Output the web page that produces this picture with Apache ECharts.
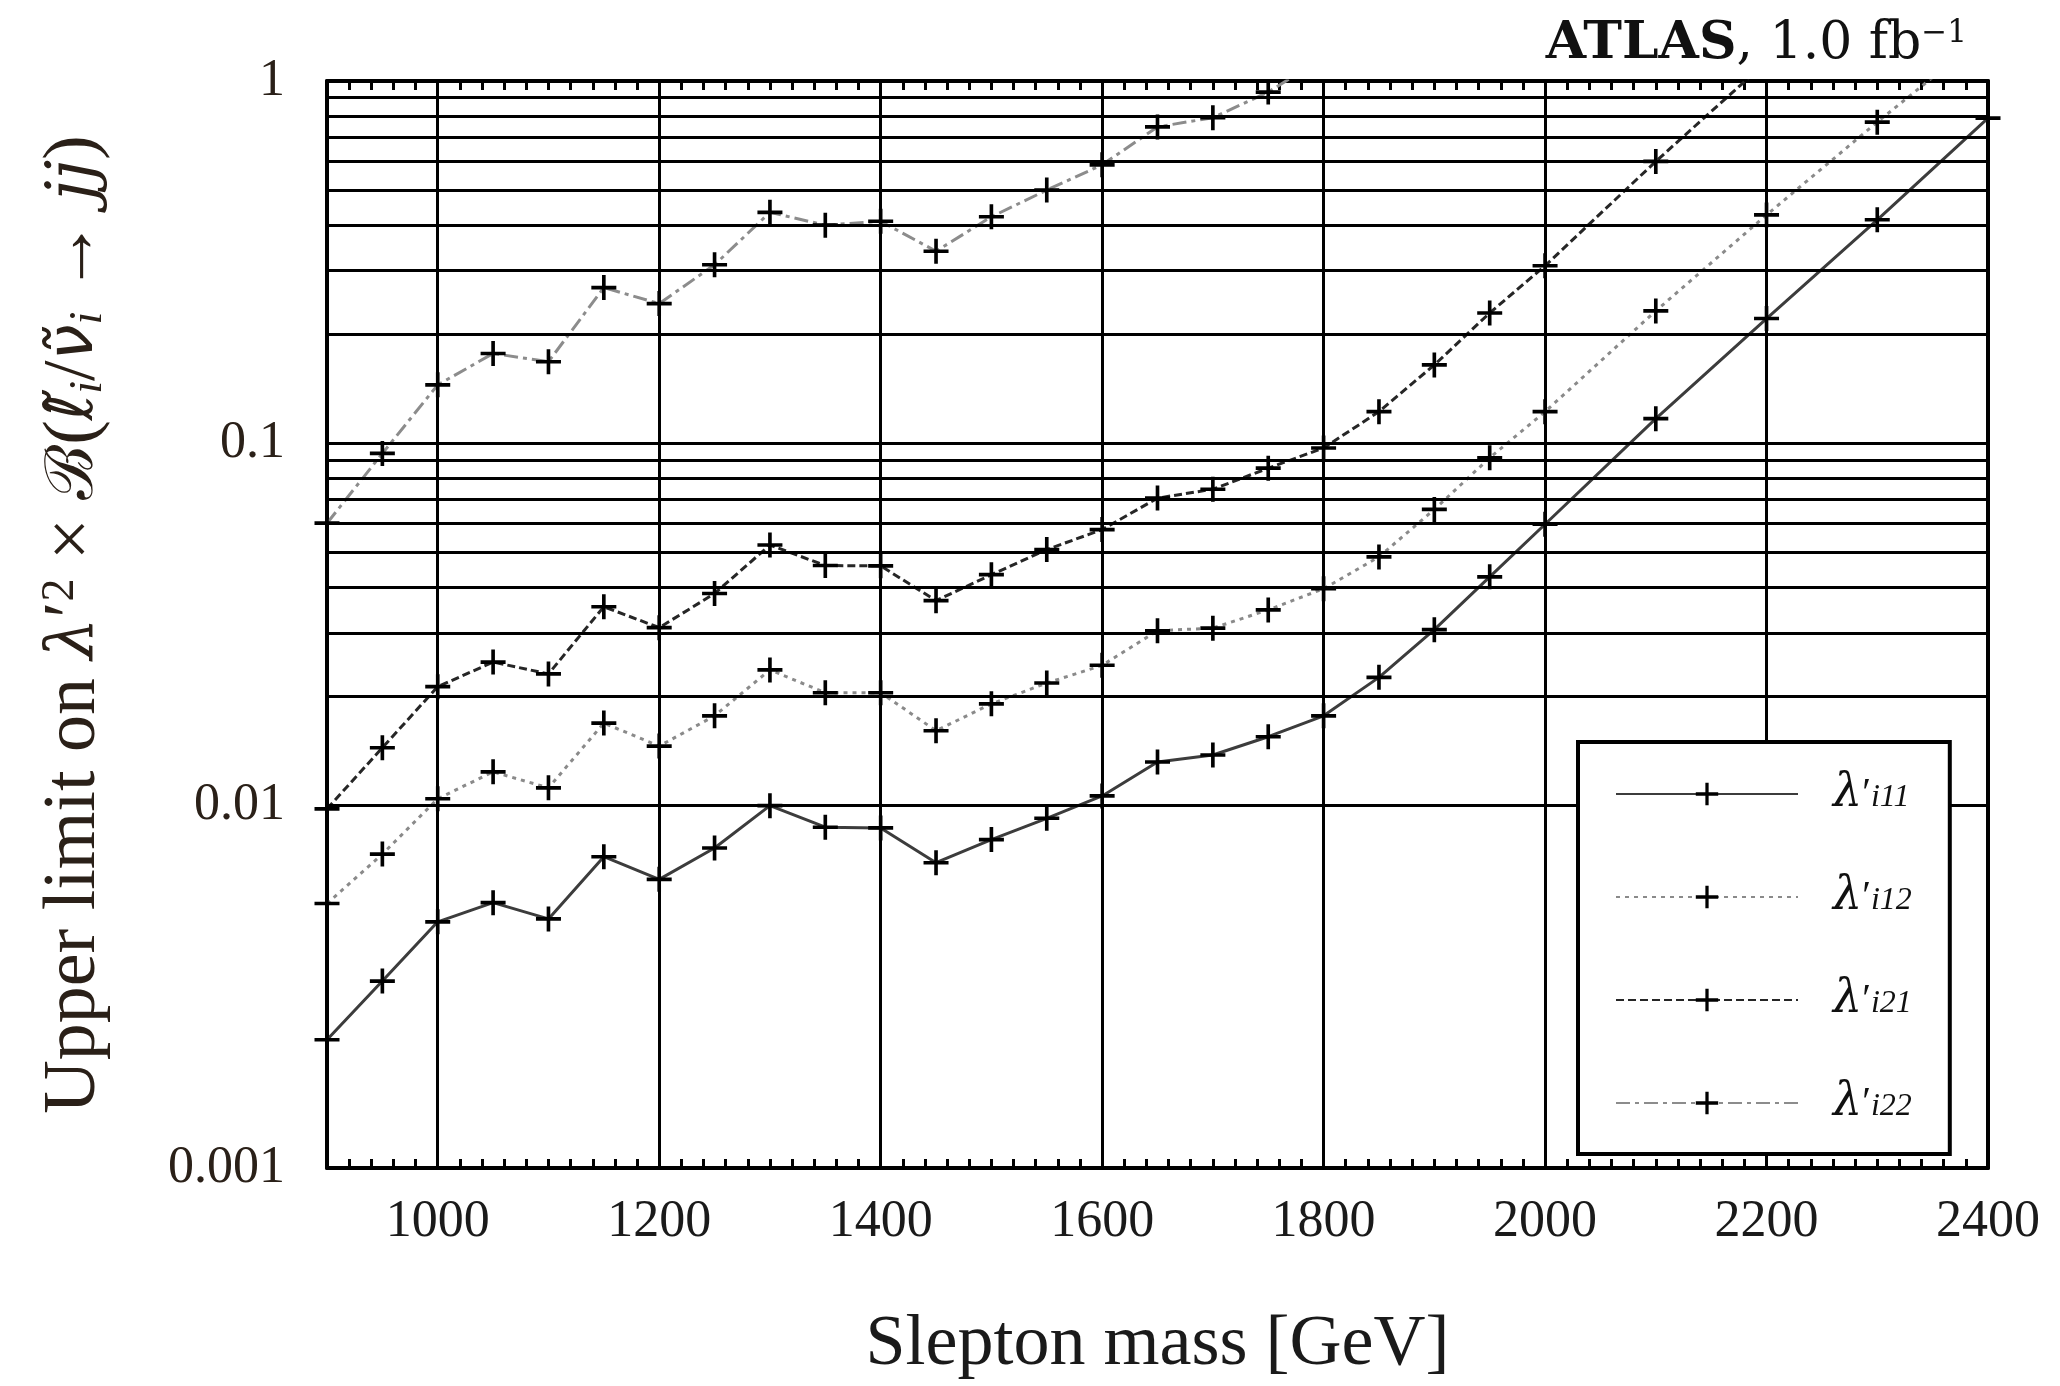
<!DOCTYPE html>
<html><head><meta charset="utf-8">
<script src="https://cdn.jsdelivr.net/npm/echarts@6/dist/echarts.min.js"></script>
<style>html,body{margin:0;padding:0;background:#fff}#c{width:2060px;height:1386px}</style>
</head><body><div id="c"></div>
<script>
// ---- data ----
const mass = [900,950,1000,1050,1100,1150,1200,1250,1300,1350,1400,1450,1500,1550,1600,1650,1700,1750,1800,1850,1900,1950,2000,2100,2200,2300,2400];
const seriesNames = ['i11','i12','i21','i22'];
const limit_i11 = [0.00226,0.00328,0.00478,0.0054,0.00487,0.00723,0.00626,0.00764,0.0100,0.00872,0.00868,0.00696,0.00806,0.00923,0.01064,0.0132,0.0138,0.0155,0.0177,0.0226,0.0306,0.0428,0.0598,0.117,0.221,0.414,0.79];
const limit_i12 = [0.00537,0.00735,0.01045,0.0124,0.0112,0.0169,0.0146,0.0177,0.0237,0.0205,0.0205,0.0161,0.0191,0.0218,0.0244,0.0304,0.0309,0.0347,0.0397,0.0486,0.0657,0.0912,0.1223,0.232,0.427,0.77,1.36];
const limit_i21 = [0.0098,0.01445,0.0213,0.0249,0.0231,0.0354,0.0310,0.0385,0.0524,0.0460,0.0459,0.0368,0.0434,0.0509,0.0578,0.0706,0.0747,0.0854,0.0971,0.1223,0.1646,0.229,0.309,0.600,1.13,null,null];
const limit_i22 = [0.0602,0.0938,0.145,0.177,0.168,0.269,0.243,0.311,0.434,0.400,0.410,0.339,0.422,0.500,0.587,0.747,0.792,0.932,1.16,null,null,null,null,null,null,null,null];
const xTickLabels = [1000,1200,1400,1600,1800,2000,2200,2400];
const yTickLabels = [0.001,0.01,0.1,1];
const xGridValues = [1000,1200,1400,1600,1800,2000,2200];
const yGridValues = [0.002,0.003,0.004,0.005,0.006,0.007,0.008,0.009,0.01,
                     0.02,0.03,0.04,0.05,0.06,0.07,0.08,0.09,0.1,
                     0.2,0.3,0.4,0.5,0.6,0.7,0.8,0.9];

// ---- build ----
const values = {i11:limit_i11, i12:limit_i12, i21:limit_i21, i22:limit_i22};
const lineStyles = {
  i11:{type:'solid', color:'#3c3c3c', width:3},
  i12:{type:[4,5], color:'#8a8a8a', width:3},
  i21:{type:[8,4], color:'#262626', width:3},
  i22:{type:[14,5,4,5], color:'#8c8c8c', width:3}
};
const plus = 'path://M-1.6,-11H1.6V-1.6H11V1.6H1.6V11H-1.6V1.6H-11V-1.6H-1.6Z';
const serif = '"Liberation Serif","DejaVu Serif",serif';
const dserif = '"DejaVu Serif",serif';

const chart = echarts.init(document.getElementById('c'), null, {renderer:'canvas'});

const dataSeries = seriesNames.map(n => ({
  name:n, type:'line', z:3, animation:false,
  data: mass.map((m,i)=>[m, values[n][i]]),
  symbol: plus, symbolSize: 25,
  itemStyle:{color:'#000'},
  lineStyle: lineStyles[n],
  clip:true
}));

const gridSeries = {
  name:'grid', type:'line', z:1, data:[], silent:true, animation:false,
  markLine:{
    silent:true, animation:false, symbol:['none','none'], label:{show:false},
    lineStyle:{color:'#000', width:3, type:'solid'},
    emphasis:{disabled:true},
    data:[...xGridValues.map(v=>({xAxis:v})), ...yGridValues.map(v=>({yAxis:v}))]
  }
};

const frameLine = {show:true, onZero:false, lineStyle:{color:'#000', width:4}};
const xBase = {
  type:'value', min:900, max:2400, interval:20,
  axisLine:frameLine,
  axisTick:{show:true, inside:true, length:9, lineStyle:{color:'#000', width:3}},
  splitLine:{show:false}
};
const tc = '#2a2018';

chart.setOption({
  backgroundColor:'#fff',
  animation:false,
  title:{
    text:'{b|ATLAS}{r|, 1.0 fb}{s|−1}',
    right:88, top:13,
    textStyle:{fontWeight:'normal', rich:{
      b:{fontFamily:dserif, fontWeight:'bold', fontSize:52, color:'#111'},
      r:{fontFamily:dserif, fontWeight:'normal', fontSize:52, color:'#111'},
      s:{fontFamily:dserif, fontWeight:'normal', fontSize:31, color:'#111', verticalAlign:'top'}
    }}
  },
  grid:{left:327, right:72, top:81, bottom:214, containLabel:false},
  legend:{
    data:seriesNames, orient:'vertical', left:1578, top:742, z:10,
    backgroundColor:'#fff', borderColor:'#000', borderWidth:4, borderRadius:0,
    padding:[29,38,28,37], itemWidth:182, itemHeight:28, itemGap:57,
    selectedMode:false,
    formatter: n => '{l|λ}{q|′}{s|' + n + '}',
    textStyle:{rich:{
      l:{fontFamily:dserif, fontStyle:'italic', fontSize:46, lineHeight:40, color:'#111', padding:[0,0,0,30]},
      q:{fontFamily:serif, fontSize:40, lineHeight:40, color:'#111', verticalAlign:'top'},
      s:{fontFamily:serif, fontStyle:'italic', fontSize:32, color:'#111', verticalAlign:'bottom', lineHeight:10}
    }}
  },
  xAxis:[
    Object.assign({}, xBase, {
      position:'bottom',
      axisLabel:{fontFamily:serif, fontSize:52, color:'#1a1a1a', margin:28,
        formatter: v => xTickLabels.includes(Math.round(v)) ? String(Math.round(v)) : ''},
      name:'Slepton mass [GeV]', nameLocation:'middle', nameGap:141,
      nameTextStyle:{fontFamily:serif, fontSize:72, color:'#1a1a1a'}
    }),
    Object.assign({}, xBase, {position:'top', axisLabel:{show:false}})
  ],
  yAxis:[
    {
      type:'log', logBase:10, min:0.001, max:1, position:'left',
      axisLine:frameLine, axisTick:{show:false}, splitLine:{show:false},
      axisLabel:{fontFamily:serif, fontSize:52, color:tc, margin:42,
        formatter: v => { const t = yTickLabels.find(x => Math.abs(x - v) / x < 1e-6); return t === undefined ? '' : String(t); }},
      name:'{n|Upper limit on }{i|λ}{n|′}{p|2}{n| × }{c|ℬ}{n|(}{t|ℓ̃}{b|i}{n|/}{t|ν̃}{b|i}{n| → }{i|jj}{n|)}',
      nameLocation:'middle', nameGap:215,
      nameTextStyle:{rich:{
        n:{fontFamily:serif, fontSize:74, color:tc},
        i:{fontFamily:dserif, fontStyle:'italic', fontSize:66, color:tc},
        t:{fontFamily:'"DejaVu Sans",sans-serif', fontStyle:'italic', fontSize:64, color:tc},
        c:{fontFamily:dserif, fontSize:66, color:tc},
        p:{fontFamily:serif, fontSize:46, color:tc, verticalAlign:'top'},
        b:{fontFamily:serif, fontStyle:'italic', fontSize:46, color:tc, verticalAlign:'bottom', lineHeight:20}
      }}
    },
    {
      type:'log', logBase:10, min:0.001, max:1, position:'right',
      axisLine:frameLine, axisTick:{show:false}, splitLine:{show:false}, axisLabel:{show:false}
    }
  ],
  series:[gridSeries, ...dataSeries]
});
</script>
</body></html>
